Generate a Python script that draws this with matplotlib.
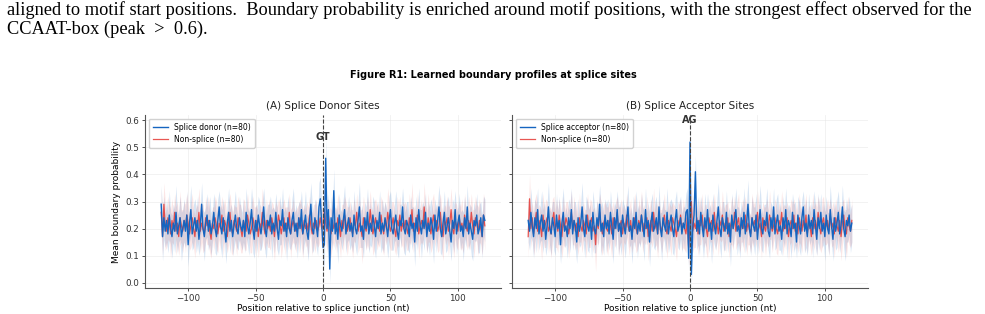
import matplotlib
matplotlib.use("Agg")
import matplotlib.pyplot as plt
import numpy as np

# --- data (mean profile and band half-width) ---
positions = list(range(-120, 121))

donor_mean = [
    0.29, 0.17, 0.24, 0.19, 0.23, 0.18, 0.25, 0.20, 0.17, 0.22, 0.19, 0.26, 0.18, 0.21, 0.24, 0.17, 0.20, 0.23, 0.19, 0.25,
    0.14, 0.22, 0.27, 0.18, 0.21, 0.24, 0.19, 0.23, 0.16, 0.21, 0.29, 0.20, 0.17, 0.22, 0.25, 0.19, 0.23, 0.18, 0.21, 0.26,
    0.20, 0.17, 0.23, 0.28, 0.21, 0.18, 0.24, 0.20, 0.15, 0.22, 0.26, 0.19, 0.23, 0.17, 0.21, 0.25, 0.20, 0.18, 0.24, 0.21,
    0.19, 0.23, 0.17, 0.26, 0.21, 0.18, 0.22, 0.27, 0.20, 0.16, 0.23, 0.19, 0.25, 0.21, 0.18, 0.22, 0.28, 0.20, 0.17, 0.23,
    0.21, 0.25, 0.18, 0.22, 0.19, 0.26, 0.20, 0.16, 0.23, 0.21, 0.27, 0.19, 0.22, 0.17, 0.24, 0.20, 0.18, 0.23, 0.26, 0.19,
    0.22, 0.17, 0.24, 0.20, 0.27, 0.18, 0.21, 0.25, 0.19, 0.16, 0.23, 0.29, 0.20, 0.18, 0.24, 0.21, 0.17, 0.28, 0.31, 0.22,
    0.13,
    0.14, 0.46, 0.20, 0.27, 0.05, 0.24, 0.19, 0.34, 0.18, 0.22, 0.16, 0.25, 0.21, 0.19, 0.23, 0.27, 0.18, 0.21, 0.24, 0.19,
    0.22, 0.17, 0.25, 0.20, 0.18, 0.23, 0.28, 0.19, 0.21, 0.16, 0.24, 0.20, 0.26, 0.18, 0.22, 0.19, 0.25, 0.21, 0.17, 0.23,
    0.20, 0.26, 0.18, 0.22, 0.19, 0.24, 0.21, 0.17, 0.23, 0.27, 0.20, 0.18, 0.22, 0.25, 0.19, 0.16, 0.23, 0.21, 0.28, 0.20,
    0.18, 0.23, 0.21, 0.17, 0.25, 0.20, 0.22, 0.15, 0.24, 0.19, 0.27, 0.21, 0.18, 0.23, 0.20, 0.26, 0.17, 0.22, 0.19, 0.24,
    0.21, 0.16, 0.25, 0.19, 0.23, 0.28, 0.20, 0.17, 0.22, 0.26, 0.18, 0.21, 0.24, 0.19, 0.15, 0.23, 0.20, 0.27, 0.18, 0.22,
    0.25, 0.19, 0.21, 0.17, 0.24, 0.20, 0.28, 0.18, 0.22, 0.19, 0.16, 0.23, 0.21, 0.25, 0.18, 0.20, 0.24, 0.17, 0.25, 0.23,
]
donor_sd = [
    0.07, 0.09, 0.08, 0.06, 0.08, 0.07, 0.09, 0.06, 0.08, 0.07, 0.08, 0.10, 0.07, 0.06, 0.08, 0.09, 0.07, 0.08, 0.06, 0.09,
    0.08, 0.07, 0.09, 0.06, 0.08, 0.07, 0.08, 0.09, 0.06, 0.07, 0.08, 0.07, 0.09, 0.06, 0.08, 0.07, 0.09, 0.08, 0.06, 0.07,
    0.09, 0.07, 0.08, 0.06, 0.08, 0.09, 0.07, 0.06, 0.08, 0.07, 0.09, 0.08, 0.06, 0.07, 0.08, 0.09, 0.07, 0.06, 0.08, 0.07,
    0.07, 0.08, 0.06, 0.09, 0.07, 0.08, 0.06, 0.08, 0.09, 0.07, 0.06, 0.08, 0.07, 0.09, 0.06, 0.08, 0.07, 0.09, 0.08, 0.06,
    0.08, 0.07, 0.09, 0.06, 0.08, 0.07, 0.08, 0.06, 0.09, 0.07, 0.08, 0.07, 0.06, 0.09, 0.08, 0.07, 0.06, 0.08, 0.09, 0.07,
    0.07, 0.08, 0.06, 0.09, 0.07, 0.08, 0.07, 0.09, 0.06, 0.08, 0.07, 0.08, 0.09, 0.06, 0.07, 0.08, 0.07, 0.09, 0.08, 0.07,
    0.08,
    0.07, 0.07, 0.08, 0.06, 0.05, 0.08, 0.07, 0.08, 0.06, 0.07, 0.09, 0.08, 0.06, 0.07, 0.08, 0.09, 0.07, 0.06, 0.08, 0.07,
    0.08, 0.06, 0.09, 0.07, 0.08, 0.07, 0.09, 0.06, 0.08, 0.07, 0.06, 0.08, 0.09, 0.07, 0.08, 0.06, 0.07, 0.09, 0.08, 0.07,
    0.06, 0.08, 0.07, 0.09, 0.08, 0.06, 0.07, 0.08, 0.09, 0.07, 0.08, 0.06, 0.07, 0.09, 0.08, 0.07, 0.06, 0.08, 0.07, 0.09,
    0.08, 0.07, 0.09, 0.06, 0.07, 0.08, 0.06, 0.09, 0.08, 0.07, 0.08, 0.06, 0.09, 0.07, 0.08, 0.07, 0.06, 0.08, 0.09, 0.07,
    0.07, 0.09, 0.06, 0.08, 0.07, 0.08, 0.09, 0.07, 0.06, 0.08, 0.07, 0.09, 0.08, 0.06, 0.07, 0.08, 0.09, 0.07, 0.08, 0.06,
    0.08, 0.07, 0.06, 0.09, 0.08, 0.07, 0.08, 0.06, 0.07, 0.09, 0.08, 0.07, 0.06, 0.08, 0.07, 0.09, 0.06, 0.08, 0.07, 0.08,
]
donor_ctrl_mean = [
    0.26, 0.17, 0.29, 0.21, 0.19, 0.24, 0.22, 0.18, 0.23, 0.20, 0.26, 0.19, 0.22, 0.17, 0.24, 0.21, 0.19, 0.23, 0.20, 0.25,
    0.22, 0.18, 0.21, 0.24, 0.20, 0.17, 0.23, 0.21, 0.26, 0.19, 0.22, 0.20, 0.18, 0.24, 0.21, 0.23, 0.19, 0.16, 0.22, 0.20,
    0.24, 0.21, 0.18, 0.22, 0.20, 0.25, 0.19, 0.23, 0.21, 0.17, 0.22, 0.26, 0.20, 0.18, 0.23, 0.21, 0.19, 0.24, 0.22, 0.20,
    0.17, 0.23, 0.21, 0.19, 0.25, 0.22, 0.18, 0.20, 0.24, 0.21, 0.19, 0.23, 0.17, 0.22, 0.20, 0.26, 0.21, 0.18, 0.23, 0.20,
    0.22, 0.19, 0.24, 0.21, 0.17, 0.23, 0.20, 0.25, 0.22, 0.18, 0.21, 0.24, 0.19, 0.22, 0.20, 0.26, 0.18, 0.21, 0.23, 0.20,
    0.19, 0.22, 0.20, 0.24, 0.21, 0.18, 0.23, 0.20, 0.22, 0.19, 0.25, 0.21, 0.18, 0.22, 0.20, 0.23, 0.19, 0.21, 0.24, 0.20,
    0.21,
    0.27, 0.22, 0.19, 0.25, 0.21, 0.18, 0.23, 0.20, 0.22, 0.19, 0.24, 0.21, 0.17, 0.23, 0.20, 0.25, 0.22, 0.19, 0.21, 0.24,
    0.20, 0.18, 0.23, 0.21, 0.26, 0.19, 0.22, 0.20, 0.17, 0.24, 0.21, 0.19, 0.23, 0.20, 0.27, 0.22, 0.18, 0.21, 0.24, 0.20,
    0.22, 0.19, 0.25, 0.21, 0.18, 0.23, 0.20, 0.26, 0.22, 0.19, 0.21, 0.24, 0.20, 0.17, 0.23, 0.21, 0.25, 0.19, 0.22, 0.20,
    0.23, 0.20, 0.18, 0.24, 0.21, 0.27, 0.19, 0.22, 0.20, 0.25, 0.18, 0.21, 0.23, 0.20, 0.28, 0.22, 0.19, 0.24, 0.21, 0.18,
    0.22, 0.25, 0.20, 0.23, 0.19, 0.21, 0.26, 0.20, 0.17, 0.23, 0.21, 0.24, 0.19, 0.22, 0.27, 0.20, 0.18, 0.23, 0.21, 0.19,
    0.24, 0.20, 0.22, 0.18, 0.25, 0.21, 0.19, 0.23, 0.20, 0.26, 0.21, 0.18, 0.24, 0.22, 0.19, 0.23, 0.20, 0.17, 0.25, 0.21,
]
donor_ctrl_sd = [
    0.09, 0.07, 0.08, 0.09, 0.06, 0.08, 0.07, 0.09, 0.08, 0.06, 0.07, 0.09, 0.08, 0.07, 0.10, 0.06, 0.08, 0.07, 0.09, 0.08,
    0.07, 0.06, 0.08, 0.09, 0.07, 0.08, 0.06, 0.07, 0.09, 0.08, 0.07, 0.09, 0.06, 0.08, 0.07, 0.09, 0.08, 0.07, 0.06, 0.08,
    0.08, 0.09, 0.07, 0.06, 0.08, 0.07, 0.09, 0.08, 0.07, 0.06, 0.08, 0.07, 0.09, 0.08, 0.06, 0.07, 0.09, 0.08, 0.07, 0.09,
    0.06, 0.08, 0.09, 0.07, 0.08, 0.06, 0.07, 0.09, 0.08, 0.07, 0.09, 0.06, 0.08, 0.07, 0.08, 0.09, 0.07, 0.06, 0.08, 0.07,
    0.09, 0.07, 0.06, 0.08, 0.09, 0.07, 0.08, 0.06, 0.07, 0.09, 0.08, 0.07, 0.09, 0.06, 0.08, 0.07, 0.09, 0.07, 0.08, 0.06,
    0.08, 0.06, 0.09, 0.07, 0.08, 0.09, 0.06, 0.07, 0.08, 0.09, 0.07, 0.06, 0.08, 0.07, 0.09, 0.08, 0.06, 0.07, 0.08, 0.07,
    0.08,
    0.09, 0.07, 0.08, 0.06, 0.07, 0.09, 0.08, 0.07, 0.06, 0.08, 0.09, 0.07, 0.08, 0.06, 0.09, 0.07, 0.08, 0.09, 0.07, 0.06,
    0.07, 0.09, 0.08, 0.06, 0.07, 0.08, 0.09, 0.07, 0.10, 0.08, 0.06, 0.07, 0.09, 0.08, 0.07, 0.06, 0.08, 0.09, 0.07, 0.08,
    0.08, 0.06, 0.07, 0.09, 0.08, 0.07, 0.06, 0.09, 0.08, 0.07, 0.09, 0.06, 0.08, 0.07, 0.09, 0.08, 0.07, 0.06, 0.08, 0.09,
    0.07, 0.08, 0.06, 0.09, 0.07, 0.10, 0.08, 0.07, 0.06, 0.08, 0.09, 0.07, 0.08, 0.06, 0.09, 0.07, 0.08, 0.09, 0.06, 0.07,
    0.09, 0.08, 0.07, 0.06, 0.08, 0.09, 0.07, 0.08, 0.09, 0.06, 0.07, 0.08, 0.09, 0.07, 0.08, 0.06, 0.09, 0.07, 0.08, 0.07,
    0.06, 0.08, 0.09, 0.07, 0.08, 0.06, 0.07, 0.09, 0.08, 0.07, 0.06, 0.09, 0.08, 0.07, 0.09, 0.08, 0.06, 0.07, 0.08, 0.09,
]

acceptor_mean = [
    0.23, 0.19, 0.26, 0.21, 0.17, 0.24, 0.20, 0.27, 0.18, 0.22, 0.25, 0.19, 0.23, 0.16, 0.21, 0.28, 0.20, 0.18, 0.24, 0.21,
    0.17, 0.25, 0.20, 0.23, 0.14, 0.22, 0.26, 0.19, 0.21, 0.17, 0.24, 0.20, 0.27, 0.18, 0.23, 0.21, 0.15, 0.24, 0.19, 0.22,
    0.28, 0.20, 0.17, 0.25, 0.21, 0.19, 0.23, 0.16, 0.26, 0.20, 0.18, 0.24, 0.21, 0.29, 0.19, 0.22, 0.17, 0.25, 0.20, 0.23,
    0.18, 0.26, 0.21, 0.16, 0.24, 0.20, 0.27, 0.19, 0.22, 0.17, 0.25, 0.21, 0.18, 0.23, 0.28, 0.19, 0.21, 0.16, 0.24, 0.20,
    0.26, 0.18, 0.22, 0.19, 0.25, 0.21, 0.17, 0.27, 0.20, 0.23, 0.15, 0.22, 0.26, 0.19, 0.21, 0.24, 0.18, 0.28, 0.20, 0.17,
    0.24, 0.21, 0.19, 0.26, 0.18, 0.22, 0.25, 0.20, 0.17, 0.23, 0.27, 0.19, 0.21, 0.24, 0.18, 0.22, 0.20, 0.26, 0.27, 0.09,
    0.52,
    0.03, 0.20, 0.25, 0.41, 0.19, 0.23, 0.18, 0.26, 0.21, 0.17, 0.24, 0.20, 0.27, 0.19, 0.22, 0.16, 0.25, 0.21, 0.18, 0.23,
    0.28, 0.20, 0.17, 0.24, 0.21, 0.19, 0.26, 0.18, 0.22, 0.15, 0.25, 0.20, 0.23, 0.27, 0.19, 0.21, 0.17, 0.24, 0.20, 0.26,
    0.18, 0.22, 0.29, 0.20, 0.17, 0.24, 0.21, 0.19, 0.25, 0.16, 0.22, 0.27, 0.20, 0.18, 0.23, 0.21, 0.26, 0.19, 0.17, 0.24,
    0.20, 0.28, 0.18, 0.22, 0.25, 0.19, 0.21, 0.16, 0.24, 0.20, 0.27, 0.18, 0.23, 0.21, 0.17, 0.26, 0.20, 0.22, 0.15, 0.25,
    0.21, 0.18, 0.24, 0.28, 0.19, 0.22, 0.17, 0.25, 0.20, 0.23, 0.18, 0.27, 0.21, 0.16, 0.24, 0.20, 0.26, 0.19, 0.22, 0.17,
    0.25, 0.20, 0.18, 0.27, 0.21, 0.16, 0.24, 0.19, 0.22, 0.26, 0.18, 0.21, 0.28, 0.20, 0.17, 0.23, 0.21, 0.25, 0.19, 0.22,
]
acceptor_sd = [
    0.08, 0.07, 0.09, 0.06, 0.08, 0.07, 0.09, 0.08, 0.06, 0.07, 0.09, 0.08, 0.07, 0.06, 0.08, 0.09, 0.07, 0.08, 0.06, 0.09,
    0.07, 0.08, 0.06, 0.09, 0.07, 0.08, 0.09, 0.06, 0.07, 0.08, 0.07, 0.09, 0.08, 0.06, 0.07, 0.09, 0.08, 0.07, 0.06, 0.08,
    0.09, 0.06, 0.08, 0.07, 0.09, 0.08, 0.06, 0.07, 0.08, 0.09, 0.07, 0.06, 0.08, 0.07, 0.09, 0.08, 0.07, 0.06, 0.09, 0.08,
    0.06, 0.08, 0.07, 0.09, 0.06, 0.08, 0.07, 0.09, 0.08, 0.07, 0.06, 0.08, 0.09, 0.07, 0.08, 0.06, 0.07, 0.09, 0.08, 0.07,
    0.08, 0.09, 0.07, 0.06, 0.08, 0.07, 0.09, 0.08, 0.06, 0.07, 0.09, 0.08, 0.07, 0.06, 0.09, 0.08, 0.07, 0.08, 0.06, 0.09,
    0.07, 0.06, 0.08, 0.09, 0.07, 0.08, 0.06, 0.09, 0.07, 0.08, 0.07, 0.06, 0.09, 0.08, 0.07, 0.06, 0.08, 0.07, 0.08, 0.05,
    0.07,
    0.04, 0.07, 0.08, 0.06, 0.07, 0.09, 0.08, 0.06, 0.07, 0.08, 0.09, 0.07, 0.06, 0.08, 0.07, 0.09, 0.08, 0.07, 0.06, 0.08,
    0.09, 0.07, 0.08, 0.06, 0.09, 0.07, 0.08, 0.07, 0.06, 0.09, 0.08, 0.07, 0.06, 0.08, 0.09, 0.07, 0.08, 0.06, 0.07, 0.09,
    0.07, 0.08, 0.09, 0.06, 0.07, 0.08, 0.07, 0.09, 0.08, 0.06, 0.07, 0.09, 0.08, 0.07, 0.06, 0.08, 0.09, 0.07, 0.08, 0.06,
    0.08, 0.07, 0.06, 0.09, 0.08, 0.07, 0.09, 0.06, 0.08, 0.07, 0.08, 0.09, 0.06, 0.07, 0.08, 0.07, 0.09, 0.08, 0.06, 0.07,
    0.09, 0.08, 0.07, 0.06, 0.08, 0.09, 0.07, 0.08, 0.06, 0.07, 0.09, 0.07, 0.08, 0.06, 0.09, 0.08, 0.07, 0.06, 0.08, 0.09,
    0.07, 0.06, 0.08, 0.09, 0.07, 0.08, 0.06, 0.07, 0.09, 0.08, 0.07, 0.06, 0.08, 0.07, 0.09, 0.08, 0.06, 0.07, 0.08, 0.07,
]
acceptor_ctrl_mean = [
    0.17, 0.31, 0.20, 0.24, 0.18, 0.22, 0.26, 0.19, 0.23, 0.21, 0.17, 0.25, 0.20, 0.22, 0.24, 0.19, 0.21, 0.18, 0.23, 0.26,
    0.20, 0.22, 0.19, 0.25, 0.21, 0.17, 0.23, 0.20, 0.24, 0.22, 0.18, 0.21, 0.26, 0.20, 0.23, 0.19, 0.22, 0.17, 0.24, 0.21,
    0.19, 0.23, 0.21, 0.18, 0.25, 0.20, 0.22, 0.24, 0.19, 0.21, 0.14, 0.23, 0.20, 0.26, 0.21, 0.18, 0.22, 0.24, 0.20, 0.19,
    0.23, 0.21, 0.18, 0.24, 0.20, 0.22, 0.26, 0.19, 0.21, 0.23, 0.18, 0.22, 0.20, 0.25, 0.21, 0.19, 0.23, 0.17, 0.22, 0.24,
    0.20, 0.18, 0.23, 0.21, 0.25, 0.19, 0.22, 0.20, 0.24, 0.17, 0.21, 0.23, 0.19, 0.26, 0.20, 0.22, 0.18, 0.24, 0.21, 0.19,
    0.22, 0.25, 0.20, 0.18, 0.23, 0.21, 0.19, 0.24, 0.22, 0.20, 0.17, 0.23, 0.21, 0.25, 0.19, 0.22, 0.20, 0.18, 0.24, 0.13,
    0.21,
    0.30, 0.19, 0.22, 0.20, 0.24, 0.18, 0.23, 0.21, 0.25, 0.19, 0.22, 0.20, 0.17, 0.24, 0.21, 0.23, 0.19, 0.26, 0.20, 0.22,
    0.18, 0.23, 0.21, 0.25, 0.19, 0.22, 0.20, 0.24, 0.17, 0.21, 0.23, 0.20, 0.26, 0.19, 0.22, 0.24, 0.18, 0.21, 0.23, 0.20,
    0.25, 0.19, 0.22, 0.20, 0.18, 0.24, 0.21, 0.23, 0.19, 0.26, 0.20, 0.22, 0.17, 0.24, 0.21, 0.19, 0.23, 0.20, 0.25, 0.22,
    0.19, 0.21, 0.24, 0.20, 0.18, 0.23, 0.21, 0.26, 0.19, 0.22, 0.20, 0.24, 0.17, 0.21, 0.23, 0.20, 0.25, 0.19, 0.22, 0.18,
    0.24, 0.21, 0.19, 0.23, 0.20, 0.25, 0.18, 0.22, 0.21, 0.17, 0.24, 0.20, 0.23, 0.19, 0.26, 0.21, 0.18, 0.22, 0.24, 0.20,
    0.21, 0.23, 0.19, 0.25, 0.20, 0.22, 0.18, 0.24, 0.21, 0.19, 0.23, 0.17, 0.22, 0.25, 0.20, 0.18, 0.24, 0.21, 0.19, 0.23,
]
acceptor_ctrl_sd = [
    0.08, 0.09, 0.07, 0.06, 0.08, 0.09, 0.07, 0.08, 0.06, 0.07, 0.09, 0.08, 0.07, 0.09, 0.06, 0.08, 0.07, 0.09, 0.08, 0.06,
    0.07, 0.09, 0.08, 0.06, 0.07, 0.08, 0.09, 0.07, 0.06, 0.08, 0.09, 0.07, 0.08, 0.06, 0.09, 0.07, 0.08, 0.07, 0.09, 0.06,
    0.08, 0.07, 0.06, 0.09, 0.08, 0.07, 0.09, 0.06, 0.08, 0.07, 0.10, 0.08, 0.06, 0.07, 0.09, 0.08, 0.07, 0.06, 0.08, 0.09,
    0.07, 0.08, 0.09, 0.06, 0.07, 0.08, 0.06, 0.09, 0.07, 0.08, 0.09, 0.07, 0.06, 0.08, 0.07, 0.09, 0.08, 0.06, 0.07, 0.09,
    0.09, 0.06, 0.08, 0.07, 0.09, 0.08, 0.07, 0.06, 0.08, 0.09, 0.07, 0.08, 0.06, 0.09, 0.07, 0.08, 0.09, 0.07, 0.06, 0.08,
    0.07, 0.08, 0.06, 0.09, 0.07, 0.08, 0.09, 0.06, 0.07, 0.08, 0.09, 0.07, 0.08, 0.06, 0.07, 0.09, 0.08, 0.07, 0.09, 0.07,
    0.08,
    0.07, 0.08, 0.09, 0.07, 0.06, 0.08, 0.09, 0.07, 0.08, 0.06, 0.07, 0.09, 0.08, 0.07, 0.06, 0.08, 0.09, 0.07, 0.08, 0.06,
    0.08, 0.07, 0.06, 0.09, 0.08, 0.07, 0.09, 0.06, 0.08, 0.07, 0.09, 0.08, 0.06, 0.07, 0.08, 0.09, 0.07, 0.06, 0.08, 0.09,
    0.07, 0.09, 0.08, 0.06, 0.07, 0.09, 0.08, 0.07, 0.06, 0.08, 0.09, 0.07, 0.08, 0.06, 0.07, 0.09, 0.08, 0.07, 0.09, 0.06,
    0.08, 0.06, 0.07, 0.09, 0.08, 0.07, 0.06, 0.08, 0.09, 0.07, 0.08, 0.06, 0.09, 0.07, 0.08, 0.09, 0.06, 0.07, 0.08, 0.07,
    0.09, 0.07, 0.08, 0.06, 0.09, 0.08, 0.07, 0.06, 0.08, 0.07, 0.09, 0.08, 0.07, 0.09, 0.06, 0.08, 0.07, 0.09, 0.08, 0.06,
    0.07, 0.08, 0.09, 0.06, 0.07, 0.08, 0.09, 0.07, 0.06, 0.08, 0.07, 0.09, 0.08, 0.06, 0.07, 0.09, 0.08, 0.07, 0.06, 0.08,
]

panel_titles = ["(A) Splice Donor Sites", "(B) Splice Acceptor Sites"]
site_labels = ["Splice donor (n=80)", "Splice acceptor (n=80)"]
ctrl_label = "Non-splice (n=80)"
motifs = ["GT", "AG"]

para_line1 = ("aligned to motif start positions.  Boundary probability is enriched around motif "
              "positions, with the strongest effect observed for the")
para_line2 = "CCAAT-box (peak  >  0.6)."

BLUE = "#1565C0"
RED = "#E53935"

fig = plt.figure(figsize=(9.85, 3.14), dpi=100)

# paragraph text from the page above the figure
fig.text(7 / 985, 1 - 10 / 314, para_line1, family="Liberation Serif", fontsize=13.2,
         va="center", ha="left")
fig.text(7 / 985, 1 - 29 / 314, para_line2, family="Liberation Serif", fontsize=13.2,
         va="center", ha="left")

fig.text(493 / 985, 1 - 75 / 314, "Figure R1: Learned boundary profiles at splice sites",
         ha="center", va="center", fontsize=7, fontweight="bold")

ax_a = fig.add_axes([145 / 985, 1 - 288 / 314, 356 / 985, 173 / 314])
ax_b = fig.add_axes([512 / 985, 1 - 288 / 314, 356 / 985, 173 / 314], sharey=ax_a)

panels = [
    (ax_a, donor_mean, donor_sd, donor_ctrl_mean, donor_ctrl_sd),
    (ax_b, acceptor_mean, acceptor_sd, acceptor_ctrl_mean, acceptor_ctrl_sd),
]

x = np.array(positions)
for i, (ax, m, s, cm, cs) in enumerate(panels):
    m, s, cm, cs = map(np.array, (m, s, cm, cs))
    ax.fill_between(x, m - s, m + s, color=BLUE, alpha=0.17, lw=0)
    ax.fill_between(x, cm - cs, cm + cs, color=RED, alpha=0.12, lw=0)
    ax.plot(x, m, color=BLUE, lw=1.0, label=site_labels[i], zorder=3)
    ax.plot(x, cm, color=RED, lw=0.9, alpha=0.85, label=ctrl_label, zorder=2)
    ax.axvline(0, color="#444444", lw=0.8, ls="--", zorder=4)
    peak = m.max()
    ax.text(0, peak + 0.08, motifs[i], ha="center", va="center", fontsize=7,
            fontweight="bold", color="#333333")

    ax.set_title(panel_titles[i], fontsize=7.5, pad=4, color="#222222")
    ax.set_xlabel("Position relative to splice junction (nt)", fontsize=6.5, labelpad=1)
    ax.set_ylim(-0.02, 0.62)
    ax.set_yticks([0.0, 0.1, 0.2, 0.3, 0.4, 0.5, 0.6])
    ax.set_xticks([-100, -50, 0, 50, 100])
    ax.tick_params(labelsize=6.3, length=2.5, width=0.6, pad=1.5, colors="#333333")
    ax.grid(True, color="#e6e6e6", lw=0.6, alpha=0.6)
    ax.set_axisbelow(True)
    for side in ("top", "right"):
        ax.spines[side].set_visible(False)
    for side in ("left", "bottom"):
        ax.spines[side].set_color("#555555")
        ax.spines[side].set_linewidth(0.8)
    ax.legend(loc="upper left", fontsize=5.5, frameon=True, framealpha=0.9,
              edgecolor="#cccccc", handlelength=2.0, borderpad=0.5, labelspacing=0.4)

ax_a.set_xticklabels(["\u2212100", "\u221250", "0", "50", "100"])
ax_b.set_xticklabels(["\u2212100", "\u221250", "0", "50", "100"])
ax_a.set_ylabel("Mean boundary probability", fontsize=6.5, labelpad=3)
plt.setp(ax_b.get_yticklabels(), visible=False)

fig.savefig("out.png", dpi=100)
